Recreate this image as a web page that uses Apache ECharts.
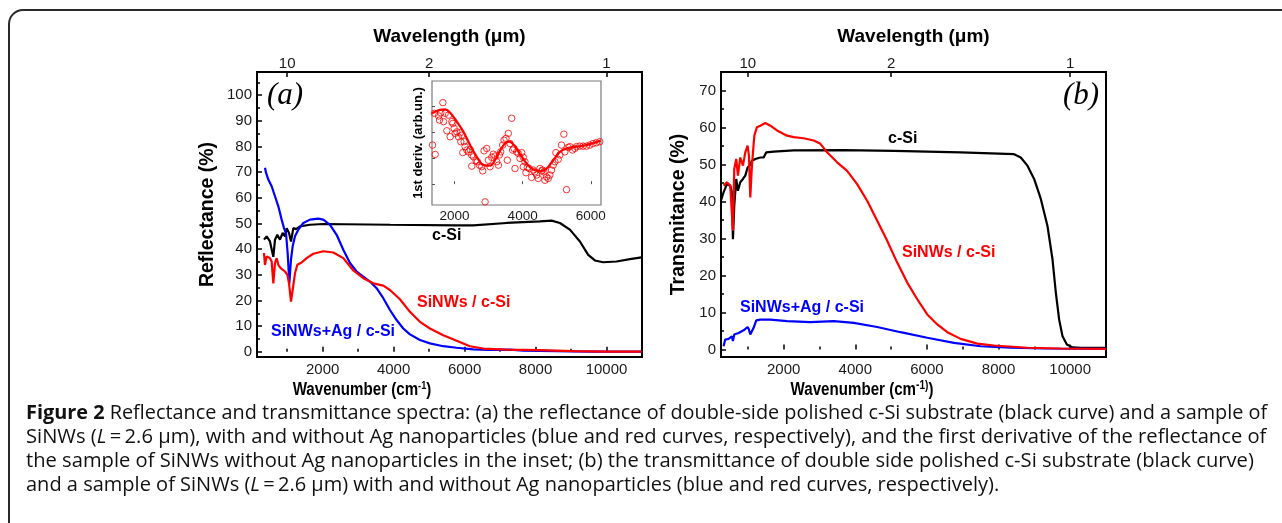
<!DOCTYPE html>
<html><head><meta charset="utf-8">
<script src="https://cdn.jsdelivr.net/npm/echarts@6/dist/echarts.min.js"></script>
<style>html,body{margin:0;padding:0;background:#fff}#c{width:1282px;height:523px}</style>
</head><body><div id="c"></div>
<script>
// ---------- data ----------
const reflCSi = [[347,43.7],[422,45.0],[516,43.0],[610,37.0],[657,43.7],[723,45.6],[798,43.7],[873,46.3],[939,45.0],[986,48.2],[1052,46.3],[1108,43.0],[1174,48.2],[1249,47.8],[1361,48.9],[1643,49.5],[2019,49.8],[3897,49.5],[5775,49.3],[6244,49.3],[7183,50.2],[8122,50.8],[8451,51.1],[8686,50.2],[8968,47.6],[9250,43.0],[9484,37.8],[9672,35.6],[9907,34.9],[10283,35.2],[10659,36.1],[10986,36.8]];
const reflSiNWAg = [[375,71.7],[404,69.8],[469,67.1],[563,64.5],[657,60.6],[751,56.7],[845,51.5],[911,48.2],[967,46.3],[1014,38.5],[1061,26.7],[1108,35.9],[1155,41.1],[1221,45.0],[1314,47.6],[1455,50.2],[1643,51.5],[1878,51.9],[2019,51.5],[2207,49.5],[2394,45.6],[2582,39.8],[2770,34.6],[2958,31.3],[3146,29.3],[3333,27.4],[3521,24.8],[3709,20.9],[3897,16.3],[4084,12.4],[4272,9.1],[4460,6.8],[4742,4.6],[5024,3.3],[5399,2.2],[5775,1.6],[6244,1.0],[6714,0.8],[7277,0.9],[7653,0.5],[8592,0.3],[9531,0.1],[10986,0.1]];
const reflSiNW = [[347,38.5],[375,33.9],[422,37.2],[516,36.5],[563,35.2],[610,26.7],[657,34.6],[704,36.5],[751,33.9],[817,32.6],[873,32.2],[939,31.3],[1005,30.0],[1052,26.7],[1108,19.6],[1155,24.1],[1221,30.6],[1287,33.9],[1408,34.8],[1549,36.5],[1737,38.2],[2019,39.2],[2300,38.7],[2582,36.5],[2864,31.7],[3146,28.7],[3427,26.7],[3709,25.8],[3897,24.1],[4178,20.5],[4460,15.6],[4742,11.7],[5024,9.1],[5399,6.5],[5775,4.3],[6150,2.2],[6526,1.3],[7183,0.9],[8122,0.7],[9061,0.3],[10000,0.1],[10986,0.1]];

const transCSi = [[247,40.2],[322,42.5],[415,44.7],[508,44.3],[555,42.5],[583,29.8],[620,38.8],[676,46.1],[723,42.9],[788,45.2],[863,46.1],[928,47.0],[993,49.2],[1049,49.7],[1114,51.0],[1207,51.5],[1347,51.9],[1441,51.9],[1515,53.3],[1720,53.5],[2280,53.8],[3678,53.9],[5077,53.7],[6942,53.3],[8434,52.8],[8620,51.9],[8807,49.7],[8993,46.1],[9180,40.7],[9366,33.4],[9506,24.4],[9599,15.4],[9692,8.1],[9786,3.6],[9907,1.4],[10065,0.6],[10298,0.5],[10998,0.5]];
const transSiNW = [[322,44.3],[415,45.2],[508,44.3],[555,44.7],[583,32.1],[620,48.8],[676,51.5],[723,47.0],[788,51.9],[863,49.7],[928,53.3],[993,55.1],[1030,52.4],[1068,41.1],[1114,49.7],[1180,57.8],[1254,60.1],[1347,60.5],[1487,61.2],[1627,60.5],[1814,59.2],[2093,57.8],[2280,57.4],[2559,57.1],[2839,56.5],[3026,55.6],[3212,53.3],[3492,50.6],[3772,48.3],[4051,44.7],[4331,40.2],[4611,34.8],[4890,29.4],[5170,23.5],[5450,18.1],[5730,13.6],[6009,9.5],[6289,6.8],[6569,4.7],[6942,2.9],[7408,1.6],[7874,1.1],[8807,0.5],[9739,0.3],[10998,0.2]];
const transSiNWAg = [[322,0.9],[368,2.7],[462,2.9],[555,3.6],[583,2.3],[620,4.1],[741,4.5],[881,5.2],[993,6.1],[1030,5.4],[1068,4.1],[1161,5.9],[1235,7.9],[1347,8.1],[1627,8.1],[2093,7.7],[2746,7.4],[3399,7.7],[3958,7.2],[4611,6.1],[5264,4.7],[6009,3.2],[6755,1.8],[7501,0.9],[8340,0.5],[9273,0.3],[10998,0.2]];

const insetFit = [[1337,2.72],[1580,2.85],[1727,2.87],[1873,2.74],[2068,2.40],[2263,2.01],[2459,1.50],[2654,1.05],[2849,0.73],[3044,0.71],[3190,0.92],[3336,1.28],[3483,1.56],[3610,1.63],[3746,1.50],[3922,1.15],[4117,0.79],[4312,0.56],[4507,0.50],[4702,0.60],[4897,0.92],[5093,1.24],[5288,1.37],[5580,1.44],[5873,1.50],[6292,1.67]];
const insetPoints = [[1356,1.50],[1434,1.14],[1415,2.72],[1532,2.62],[1561,2.46],[1659,3.13],[1678,2.40],[1600,2.74],[1727,2.72],[1824,2.65],[1776,2.05],[1873,1.82],[1922,2.40],[1951,2.33],[1990,2.14],[2020,1.95],[2068,2.01],[2117,1.82],[2166,1.97],[2215,1.88],[2185,1.63],[2283,1.63],[2244,1.21],[2312,1.44],[2361,1.31],[2410,1.24],[2459,1.33],[2507,1.12],[2556,1.05],[2507,0.69],[2634,0.90],[2673,0.86],[2732,0.73],[2800,0.67],[2829,0.51],[2868,1.28],[2898,-0.68],[2946,1.37],[2995,0.92],[3044,0.67],[3093,1.03],[3141,1.15],[3190,1.08],[3239,0.86],[3288,0.73],[3317,1.12],[3356,1.24],[3415,1.50],[3454,1.69],[3512,1.76],[3580,1.95],[3629,1.56],[3678,2.53],[3551,0.92],[3707,1.31],[3746,1.37],[3776,0.60],[3824,1.24],[3873,1.18],[3922,0.99],[3971,1.21],[4019,1.03],[4068,0.86],[4019,0.67],[4098,0.44],[4137,0.64],[4195,0.60],[4263,0.26],[4312,0.54],[4361,0.47],[4410,0.35],[4459,0.22],[4507,0.60],[4556,0.51],[4585,0.54],[4624,0.47],[4654,0.15],[4702,0.28],[4751,0.22],[4800,0.35],[4849,0.54],[4897,0.73],[4946,0.86],[4976,1.21],[5044,0.95],[5093,1.12],[5141,1.50],[5210,1.92],[5239,1.24],[5288,-0.21],[5337,1.41],[5385,1.44],[5463,1.31],[5532,1.37],[5580,1.44],[5678,1.46],[5776,1.46],[5873,1.46],[5971,1.50],[6068,1.56],[6166,1.59],[6263,1.63]];

const wnMajorTicks = [2000,4000,6000,8000,10000];
const wnMinorTicks = [1000,3000,5000,7000,9000];
const wlTickPositions = [1000,5000,10000];      // wavenumbers of 10, 2, 1 µm
const reflTicks = [0,10,20,30,40,50,60,70,80,90,100];
const reflMinorTicks = [5,15,25,35,45,55,65,75,85,95,105];
const transTicks = [0,10,20,30,40,50,60,70];
const transMinorTicks = [5,15,25,35,45,55,65];
const insetXTicks = [2000,4000,6000];
const insetYTicks = [0,1,2,3];

// ---------- helpers ----------
const SANS = '"Liberation Sans", Arial, Helvetica, sans-serif';
const TXT = '#1a1a1a';
const tickLine = {color:'#000', width:1.5};
const plain = v => String(v);

function mainX(grid, min) {
  return {
    type:'value', gridIndex:grid, min:min, max:11000, position:'bottom',
    axisLine:{show:false}, splitLine:{show:false},
    axisTick:{inside:true, length:5, customValues:wnMajorTicks, lineStyle:tickLine},
    axisLabel:{customValues:wnMajorTicks, formatter:plain, margin:5, fontSize:15, color:TXT, fontFamily:SANS}
  };
}
function topX(grid, min) {
  return {
    type:'value', gridIndex:grid, min:min, max:11000, position:'top',
    axisLine:{show:false}, splitLine:{show:false},
    axisTick:{inside:true, length:5, customValues:wlTickPositions, lineStyle:tickLine},
    axisLabel:{customValues:wlTickPositions, margin:1, fontSize:15, color:TXT, fontFamily:SANS,
      formatter:v=>String(Math.round(10000/v))},
    name:'Wavelength (\u03bcm)', nameLocation:'middle', nameGap:26,
    nameTextStyle:{fontSize:19, fontWeight:'bold', color:'#000', fontFamily:SANS}
  };
}
function minorX(grid, min) {
  return {
    type:'value', gridIndex:grid, min:min, max:11000, position:'bottom',
    axisLine:{show:false}, splitLine:{show:false},
    axisTick:{inside:true, length:3, customValues:wnMinorTicks, lineStyle:tickLine},
    axisLabel:{show:false}
  };
}
function mainY(grid, min, max, ticks, name, gap) {
  return {
    type:'value', gridIndex:grid, min:min, max:max, position:'left',
    axisLine:{show:false}, splitLine:{show:false},
    axisTick:{inside:true, length:5, customValues:ticks, lineStyle:tickLine},
    axisLabel:{customValues:ticks, formatter:plain, margin:5, fontSize:15, color:TXT, fontFamily:SANS},
    name:name, nameLocation:'middle', nameGap:gap,
    nameTextStyle:{fontSize:19.5, fontWeight:'bold', color:'#000', fontFamily:SANS}
  };
}
function minorY(grid, min, max, ticks) {
  return {
    type:'value', gridIndex:grid, min:min, max:max, position:'left',
    axisLine:{show:false}, splitLine:{show:false},
    axisTick:{inside:true, length:3, customValues:ticks, lineStyle:tickLine},
    axisLabel:{show:false}
  };
}
function curve(data, color, xi, yi) {
  return {type:'line', data:data, xAxisIndex:xi, yAxisIndex:yi, showSymbol:false, symbol:'none',
    lineStyle:{color:color, width:2.2}, itemStyle:{color:color}, animation:false, silent:true};
}

// ---------- caption ----------
const CAP_FONT = '"Open Sans", "Noto Sans", sans-serif';
const capLines = [
  {bold:'Figure 2', rest:' Reflectance and transmittance spectra: (a) the reflectance of double-side polished c-Si substrate (black curve) and a sample of', target:1242},
  {bold:'', rest:'SiNWs (L\u2009=\u20092.6 \u00b5m), with and without Ag nanoparticles (blue and red curves, respectively), and the first derivative of the reflectance of', target:1242},
  {bold:'', rest:'the sample of SiNWs without Ag nanoparticles in the inset; (b) the transmittance of double side polished c-Si substrate (black curve)', target:1229},
  {bold:'', rest:'and a sample of SiNWs (L\u2009=\u20092.6 \u00b5m) with and without Ag nanoparticles (blue and red curves, respectively).', target:975}
];
const ctx = document.createElement('canvas').getContext('2d');
function mw(t, wt, s){ ctx.font = wt+' '+s+'px '+CAP_FONT; return ctx.measureText(t).width; }
const capY = [413, 437, 461, 485];

const graphics = [
  {type:'rect', shape:{x:9, y:10, width:1300, height:560, r:14}, style:{fill:'none', stroke:'#2a2a2a', lineWidth:2}, silent:true, z:0},
  {type:'text', left:267, top:80, style:{text:'(a)', font:'italic 31px "Liberation Serif", "Times New Roman", serif', fill:'#000'}},
  {type:'text', left:1063, top:80, style:{text:'(b)', font:'italic 31px "Liberation Serif", "Times New Roman", serif', fill:'#000'}},
  {type:'text', x:432, y:236, style:{text:'c-Si', font:'bold 16px '+SANS, fill:'#000', verticalAlign:'middle'}},
  {type:'text', x:417, y:303, style:{text:'SiNWs / c-Si', font:'bold 16px '+SANS, fill:'#ff0000', verticalAlign:'middle'}},
  {type:'text', x:271, y:332, style:{text:'SiNWs+Ag / c-Si', font:'bold 16px '+SANS, fill:'#0000ff', verticalAlign:'middle'}},
  {type:'text', x:888, y:139, style:{text:'c-Si', font:'bold 16px '+SANS, fill:'#000', verticalAlign:'middle'}},
  {type:'text', x:902, y:253, style:{text:'SiNWs / c-Si', font:'bold 16px '+SANS, fill:'#ff0000', verticalAlign:'middle'}},
  {type:'text', x:740, y:308, style:{text:'SiNWs+Ag / c-Si', font:'bold 16px '+SANS, fill:'#0000ff', verticalAlign:'middle'}},
  {type:'text', x:362, y:390, scaleX:0.84, style:{text:'Wavenumber (cm{s|-1})', font:'bold 18px '+SANS, fill:'#000', align:'center', verticalAlign:'middle',
     rich:{s:{fontSize:11, fontWeight:'bold', fontFamily:SANS, fill:'#000', verticalAlign:'top', padding:[0,0,9,0]}}}},
  {type:'text', x:862, y:390, scaleX:0.84, style:{text:'Wavenumber (cm{s|-1)})', font:'bold 18px '+SANS, fill:'#000', align:'center', verticalAlign:'middle',
     rich:{s:{fontSize:12, fontWeight:'bold', fontFamily:SANS, fill:'#000', verticalAlign:'top', padding:[0,0,9,0]}}}}
];
capLines.forEach((l,i)=>{
  const w = (l.bold ? mw(l.bold,'bold',20) : 0) + mw(l.rest,'normal',20);
  const s = Math.max(15, Math.min(21, 20*l.target/w));
  const rich = {
    b:{fontWeight:'bold', fontSize:s, fontFamily:CAP_FONT, fill:'#111'},
    i:{fontStyle:'italic', fontSize:s, fontFamily:CAP_FONT, fill:'#111'}
  };
  const txt = (l.bold ? '{b|'+l.bold+'}' : '') + l.rest.replace(/\(L/g, '({i|L}');
  graphics.push({type:'text', x:26, y:capY[i], style:{text:txt, font:s+'px '+CAP_FONT, fill:'#111', verticalAlign:'middle', rich:rich}});
});

const option = {
  backgroundColor:'#fff',
  animation:false,
  grid:[
    {left:257, top:72, width:385, height:285, show:true, borderColor:'#000', borderWidth:2},
    {left:257, top:72, width:385, height:285},
    {left:721, top:72, width:385, height:285, show:true, borderColor:'#000', borderWidth:2},
    {left:721, top:72, width:385, height:285},
    {left:432, top:81, width:169, height:124, show:true, borderColor:'#7a7a7a', borderWidth:1.2, backgroundColor:'#fff'}
  ],
  xAxis:[
    mainX(0,150), topX(0,150), minorX(1,150),
    mainX(2,250), topX(2,250), minorX(3,250),
    {type:'value', gridIndex:4, min:1340, max:6300, position:'bottom',
     axisLine:{show:false}, splitLine:{show:false},
     axisTick:{inside:true, length:3, customValues:insetXTicks, lineStyle:{color:'#555', width:1}},
     axisLabel:{customValues:insetXTicks, formatter:plain, margin:4, fontSize:13.5, color:TXT, fontFamily:SANS}}
  ],
  yAxis:[
    mainY(0,-2,109,reflTicks,'Reflectance (%)',39), minorY(1,-2,109,reflMinorTicks),
    mainY(2,-2,75,transTicks,'Transmitance (%)',32), minorY(3,-2,75,transMinorTicks),
    {type:'value', gridIndex:4, min:-0.8, max:3.96, position:'left',
     axisLine:{show:false}, splitLine:{show:false},
     axisTick:{inside:true, length:3, customValues:insetYTicks, lineStyle:{color:'#555', width:1}},
     axisLabel:{show:false},
     name:'1st deriv. (arb.un.)', nameLocation:'middle', nameGap:7,
     nameTextStyle:{fontSize:13, fontWeight:'bold', color:'#000', fontFamily:SANS}}
  ],
  series:[
    curve(reflCSi,'#000000',0,0),
    curve(reflSiNWAg,'#0000ff',0,0),
    curve(reflSiNW,'#ff0000',0,0),
    curve(transCSi,'#000000',3,2),
    curve(transSiNWAg,'#0000ff',3,2),
    curve(transSiNW,'#ff0000',3,2),
    {type:'scatter', data:insetPoints, xAxisIndex:6, yAxisIndex:4, symbol:'circle', symbolSize:6.5,
     itemStyle:{color:'rgba(255,255,255,0)', borderColor:'#ff0000', borderWidth:1}, animation:false, silent:true},
    Object.assign(curve(insetFit,'#ff0000',6,4), {smooth:0.4, lineStyle:{color:'#ff0000', width:2.2}})
  ],
  graphic:graphics
};
const chart = echarts.init(document.getElementById('c'), null, {renderer:'canvas'});
chart.setOption(option);
</script></body></html>
